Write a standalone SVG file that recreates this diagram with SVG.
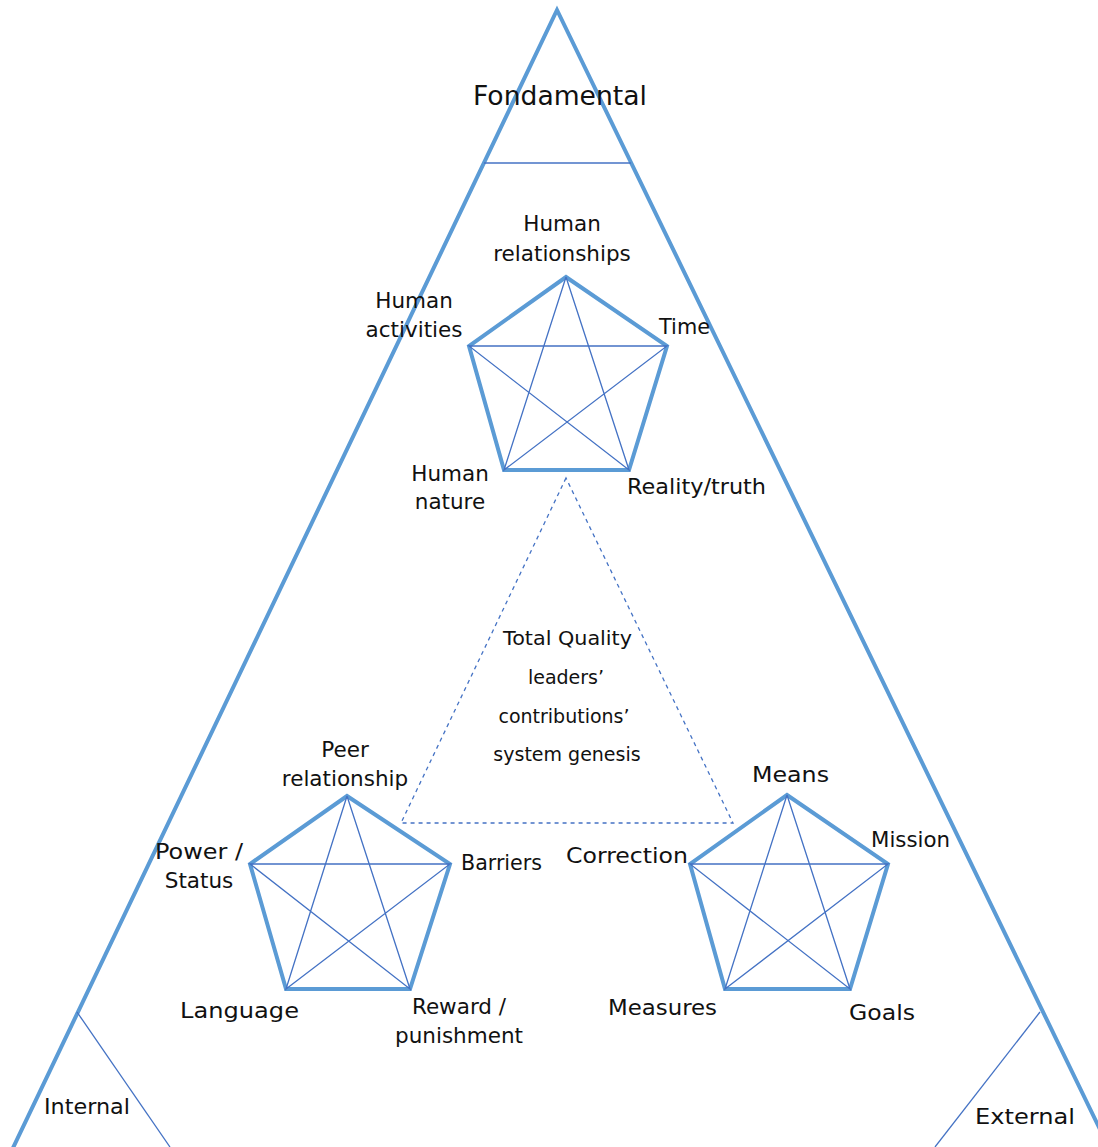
<svg xmlns="http://www.w3.org/2000/svg" width="1098" height="1147" viewBox="0 0 1098 1147">
<style>
.thick{fill:none;stroke:#5B9BD5;stroke-width:4;stroke-linejoin:miter}
.thin{fill:none;stroke:#4472C4;stroke-width:1.3}
.dash{fill:none;stroke:#4472C4;stroke-width:1.3;stroke-dasharray:4 4}
text{font-family:"DejaVu Sans","Liberation Sans",sans-serif;font-size:21.5px;fill:#111}
.c{text-anchor:middle}
.big{font-size:26px}
.mid{font-size:19px}
</style>
<rect width="1098" height="1147" fill="#fff"/>
<g id="pyramid">
  <polyline class="thick" points="12,1150 557,10 1110,1150"/>
  <line class="thin" x1="484" y1="163" x2="631" y2="163"/>
  <line class="thin" x1="77" y1="1012" x2="170" y2="1147"/>
  <line class="thin" x1="1040" y1="1012" x2="935" y2="1147"/>
  <text class="big" x="473" y="105" textLength="174" lengthAdjust="spacingAndGlyphs">Fondamental</text>
  <text x="44" y="1114" textLength="86" lengthAdjust="spacingAndGlyphs">Internal</text>
  <text x="975" y="1124" textLength="100" lengthAdjust="spacingAndGlyphs">External</text>
</g>
<g id="connectors">
  <polygon class="dash" points="566,478 401,823 733,823"/>
</g>
<g id="center-label">
  <text class="mid" x="503" y="645" textLength="129" lengthAdjust="spacingAndGlyphs">Total Quality</text>
  <text class="mid c" x="566" y="684">leaders’</text>
  <text class="mid c" x="564" y="723">contributions’</text>
  <text class="mid c" x="567" y="761">system genesis</text>
</g>
<g id="pentagon-top">
  <polygon class="thick" points="566,277 667,346 629,470 504,470 469,346"/>
  <polyline class="thin" points="566,277 504,470 667,346 469,346 629,470 566,277"/>
  <text class="c" x="562" y="231">Human</text>
  <text class="c" x="562" y="261">relationships</text>
  <text class="c" x="414" y="308">Human</text>
  <text class="c" x="414" y="337">activities</text>
  <text x="659" y="334" textLength="51" lengthAdjust="spacingAndGlyphs">Time</text>
  <text class="c" x="450" y="481">Human</text>
  <text class="c" x="450" y="509">nature</text>
  <text x="627" y="494" textLength="139" lengthAdjust="spacingAndGlyphs">Reality/truth</text>
</g>
<g id="pentagon-left">
  <polygon class="thick" points="347,796 450,864 410,989 286,989 250,864"/>
  <polyline class="thin" points="347,796 286,989 450,864 250,864 410,989 347,796"/>
  <text class="c" x="345" y="757">Peer</text>
  <text class="c" x="345" y="786">relationship</text>
  <text x="155" y="859" textLength="88" lengthAdjust="spacingAndGlyphs">Power /</text>
  <text class="c" x="199" y="888">Status</text>
  <text x="461" y="870" textLength="81" lengthAdjust="spacingAndGlyphs">Barriers</text>
  <text x="180" y="1018" textLength="119" lengthAdjust="spacingAndGlyphs">Language</text>
  <text class="c" x="459" y="1014">Reward /</text>
  <text class="c" x="459" y="1043">punishment</text>
</g>
<g id="pentagon-right">
  <polygon class="thick" points="787,795 888,864 850,989 725,989 690,864"/>
  <polyline class="thin" points="787,795 725,989 888,864 690,864 850,989 787,795"/>
  <text x="752" y="782" textLength="77" lengthAdjust="spacingAndGlyphs">Means</text>
  <text x="871" y="847" textLength="79" lengthAdjust="spacingAndGlyphs">Mission</text>
  <text x="566" y="863" textLength="122" lengthAdjust="spacingAndGlyphs">Correction</text>
  <text x="608" y="1015" textLength="109" lengthAdjust="spacingAndGlyphs">Measures</text>
  <text x="849" y="1020" textLength="66" lengthAdjust="spacingAndGlyphs">Goals</text>
</g>
</svg>
